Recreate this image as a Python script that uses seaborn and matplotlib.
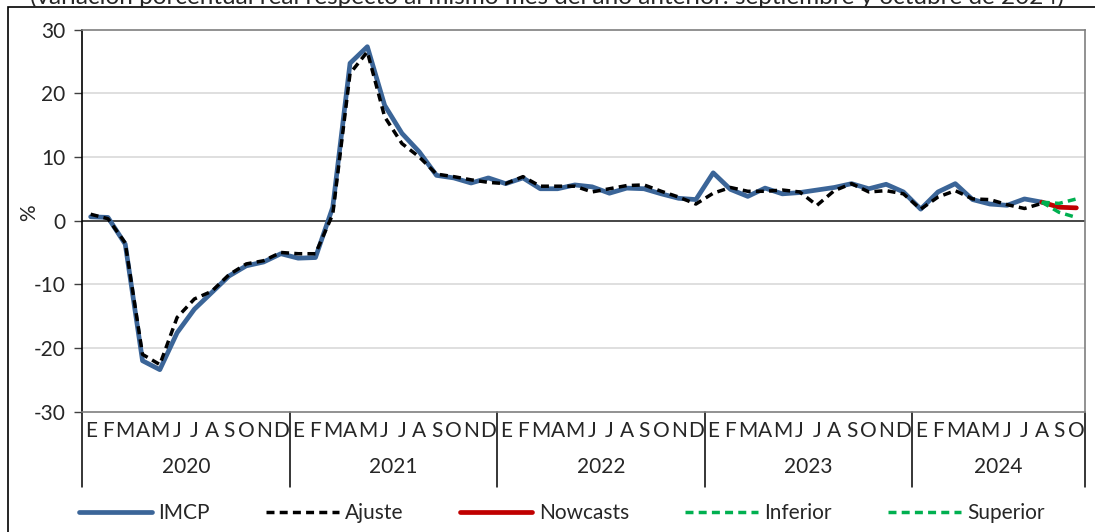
import numpy as np
import pandas as pd
import matplotlib.pyplot as plt
import matplotlib.transforms as mtransforms
from matplotlib.patches import Rectangle
import seaborn as sns

# month initials (Spanish) and years
month_letters = ["E", "F", "M", "A", "M", "J", "J", "A", "S", "O", "N", "D"]
years = ["2020", "2021", "2022", "2023", "2024"]
months_2024 = 10

imcp = [0.6, 0.5, -3.7, -22.0, -23.4, -17.6, -13.9, -11.3, -8.7, -7.1, -6.5, -5.2,
        -5.9, -5.8, 2.1, 24.7, 27.3, 18.1, 13.7, 10.8, 7.1, 6.7, 5.9, 6.7,
        5.8, 6.7, 5.0, 5.0, 5.6, 5.3, 4.3, 5.1, 5.0, 4.2, 3.5, 3.3,
        7.5, 4.9, 3.8, 5.1, 4.2, 4.4, 4.8, 5.2, 5.8, 5.0, 5.7, 4.5,
        1.8, 4.5, 5.8, 3.3, 2.6, 2.4, 3.4, 2.9]
ajuste = [1.0, 0.3, -3.5, -21.0, -22.6, -15.2, -12.3, -11.1, -8.5, -6.8, -6.3, -5.0,
          -5.2, -5.2, 1.0, 23.1, 26.5, 16.3, 12.1, 10.0, 7.3, 6.9, 6.4, 6.0,
          5.8, 6.9, 5.4, 5.4, 5.4, 4.5, 5.0, 5.5, 5.6, 4.6, 3.7, 2.6,
          4.3, 5.2, 4.6, 4.6, 4.8, 4.5, 2.4, 4.7, 5.8, 4.5, 4.7, 4.2,
          1.8, 3.7, 4.7, 3.4, 3.3, 2.5, 1.9, 2.7]
nowcasts = [2.9, 2.1, 2.0]
inferior = [2.9, 1.3, 0.5]
superior = [2.9, 2.7, 3.4]

sns.set_theme(style="white")
plt.rcParams['font.family'] = ['Lato', 'DejaVu Sans']
plt.rcParams['axes.unicode_minus'] = False

n_months = 12 * (len(years) - 1) + months_2024
x_hist = np.arange(len(imcp))
x_now = np.arange(len(imcp) - 1, len(imcp) - 1 + len(nowcasts))

fig = plt.figure(figsize=(10.95, 5.32), dpi=100)
ax = fig.add_axes([82 / 1095, 1 - 411.7 / 532, (1085 - 82) / 1095, (411.7 - 29.5) / 532])

blue = "#3B6598"
green = "#00B050"
red = "#C00000"
dash = (0, (2.3, 1.5))
fs = 15

sns.lineplot(x=x_hist, y=imcp, ax=ax, color=blue, lw=3.4, label="IMCP", zorder=3)
sns.lineplot(x=x_hist, y=ajuste, ax=ax, color="black", lw=2.5, label="Ajuste",
             linestyle=dash, zorder=4)
sns.lineplot(x=x_now, y=nowcasts, ax=ax, color=red, lw=3.4, label="Nowcasts", zorder=5)
sns.lineplot(x=x_now, y=inferior, ax=ax, color=green, lw=2.5, label="Inferior",
             linestyle=dash, zorder=6)
sns.lineplot(x=x_now, y=superior, ax=ax, color=green, lw=2.5, label="Superior",
             linestyle=dash, zorder=6)

ax.set_xlim(-0.5, n_months - 0.5)
ax.set_ylim(-30, 30)
ax.set_yticks(range(-30, 31, 10))
ax.tick_params(axis="y", length=6, width=1, color="#404040", direction="out",
               labelsize=fs, pad=6, left=True)
for v in [-20, -10, 10, 20]:
    ax.axhline(v, color="#d9d9d9", lw=1.2, zorder=1)
ax.axhline(0, color="#262626", lw=1.2, zorder=2)

# month letters as tick labels
ax.set_xticks(range(n_months))
ax.set_xticklabels([month_letters[i % 12] for i in range(n_months)], fontsize=fs)
ax.tick_params(axis="x", length=0, pad=7)

for side in ["top", "right", "bottom"]:
    ax.spines[side].set_color("#7f7f7f")
    ax.spines[side].set_linewidth(1.2)
ax.spines["left"].set_color("black")
ax.spines["left"].set_linewidth(1.2)

# year separators and year labels
trans = mtransforms.blended_transform_factory(ax.transData, ax.transAxes)
bounds = [-0.5 + 12 * i for i in range(len(years))] + [n_months - 0.5]
for b in bounds:
    ax.plot([b, b], [0, -0.196], transform=trans, color="black", lw=1.1, clip_on=False)
for i, yr in enumerate(years):
    mid = (bounds[i] + bounds[i + 1]) / 2
    ax.text(mid, -0.145, yr, transform=trans, ha="center", va="center", fontsize=fs)

ax.set_ylabel("%", fontsize=fs)
ax.yaxis.set_label_coords(-0.043, 0.52)

ax.legend(loc="center", bbox_to_anchor=(0.513, 0.036), bbox_transform=fig.transFigure,
          ncol=5, frameon=False, fontsize=fs, handlelength=3.5, columnspacing=2.7,
          handletextpad=0.3)

# outer chart frame and the clipped subtitle
fig.patches.append(Rectangle((8 / 1095, -0.1), 1.2, 1.1 - 7 / 532, transform=fig.transFigure,
                             fill=False, edgecolor="black", lw=1.2))
fig.text(0.5, 1 - 4 / 532,
         "(variación porcentual real respecto al mismo mes del año anterior: septiembre y octubre de 2024)",
         ha="center", va="baseline", fontsize=17.5)

fig.savefig("out.png", dpi=100)
